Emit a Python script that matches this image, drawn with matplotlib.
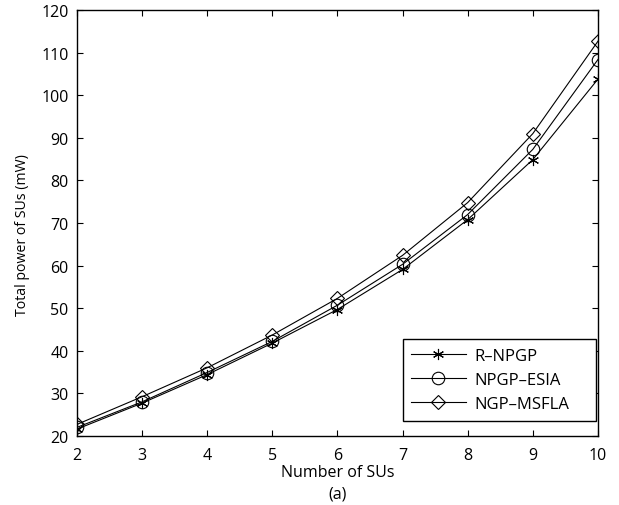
import matplotlib
matplotlib.use("Agg")
import matplotlib.pyplot as plt

plt.rcParams['font.family'] = ['Open Sans', 'DejaVu Sans']

num_sus = [2, 3, 4, 5, 6, 7, 8, 9, 10]
r_npgp = [21.6, 27.7, 34.4, 41.8, 49.7, 59.1, 70.8, 84.9, 103.8]
npgp_esia = [22.0, 28.0, 34.9, 42.2, 50.7, 60.3, 72.0, 87.3, 108.4]
ngp_msfla = [22.7, 29.2, 36.0, 43.7, 52.3, 62.4, 74.8, 91.0, 112.7]
series_labels = ['R–NPGP', 'NPGP–ESIA', 'NGP–MSFLA']
x_ticks = [2, 3, 4, 5, 6, 7, 8, 9, 10]
y_ticks = [20, 30, 40, 50, 60, 70, 80, 90, 100, 110, 120]

fig = plt.figure(figsize=(6.19, 5.06), dpi=100)
ax = fig.add_axes([0.124, 0.1364, 0.842, 0.8416])

lw = 0.8
ax.plot(num_sus, r_npgp, color='black', lw=lw, marker=(6, 2, 0), markersize=8,
        markeredgewidth=0.8, label=series_labels[0])
ax.plot(num_sus, npgp_esia, color='black', lw=lw, marker='o', markersize=9,
        markerfacecolor='none', markeredgewidth=0.8, label=series_labels[1])
ax.plot(num_sus, ngp_msfla, color='black', lw=lw, marker='D', markersize=7,
        markerfacecolor='none', markeredgewidth=0.8, label=series_labels[2])

ax.set_xlim(2, 10)
ax.set_ylim(20, 120)
ax.set_xticks(x_ticks)
ax.set_yticks(y_ticks)
ax.tick_params(direction='in', top=True, right=True, length=4, width=0.8,
               labelsize=11.5)
ax.tick_params(axis='x', pad=8)
ax.tick_params(axis='y', pad=6)
for s in ax.spines.values():
    s.set_linewidth(1.0)

ax.text(0.5, -0.0845, 'Number of SUs', transform=ax.transAxes, fontsize=11.5,
        ha='center', va='center')
ax.text(0.5, -0.136, '(a)', transform=ax.transAxes, fontsize=11.5,
        ha='center', va='center')
ax.text(-0.105, 0.473, 'Total power of SUs (mW)', transform=ax.transAxes,
        fontsize=10.2, ha='center', va='center', rotation=90)

leg = ax.legend(loc='lower left', bbox_to_anchor=(0.625, 0.036, 0.372, 0.193),
                mode='expand', fontsize=12,
                frameon=True, fancybox=False, edgecolor='black', framealpha=1,
                handlelength=3.3, borderaxespad=0, labelspacing=0.5,
                borderpad=0.5, handletextpad=0.5)
leg.get_frame().set_linewidth(1.0)

fig.savefig('out.png', dpi=100)
